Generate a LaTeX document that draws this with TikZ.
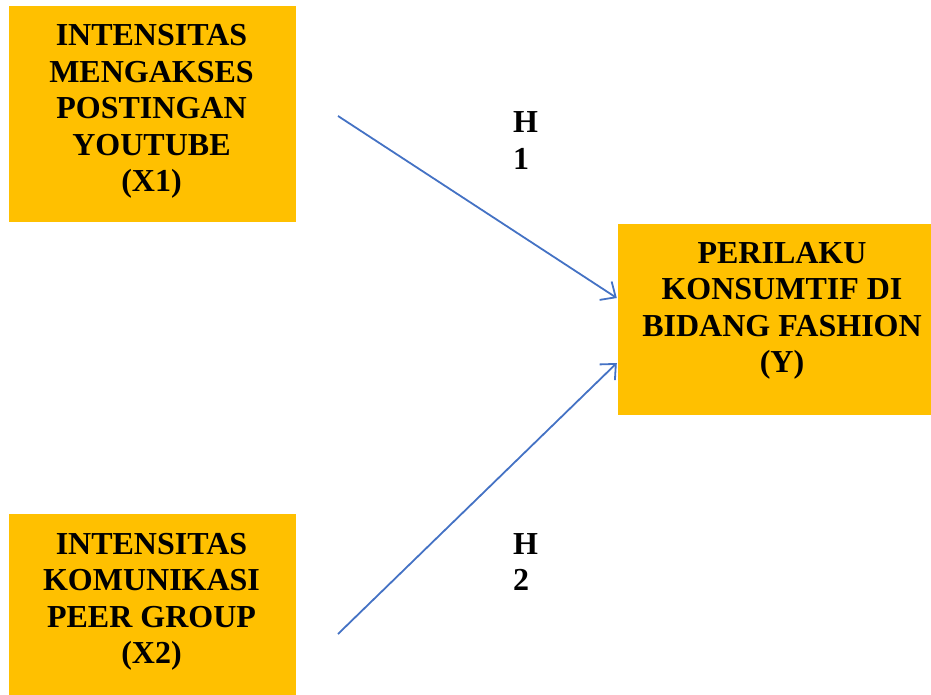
\documentclass[tikz,border=0pt]{standalone}
\usepackage{fontspec}
\setmainfont{Liberation Serif}
\usetikzlibrary{arrows.meta}
\definecolor{boxorange}{HTML}{FFC000}
\definecolor{arrowblue}{HTML}{4472C4}
\tikzset{
  varbox/.style={rectangle, fill=boxorange, draw=none, inner sep=0pt},
  boxtext/.style={align=center, inner sep=0pt, font=\fontsize{32}{36.5}\selectfont\bfseries},
  hyptext/.style={align=left, inner sep=0pt, font=\fontsize{32}{36.6}\selectfont\bfseries},
  link/.style={draw=arrowblue, line width=1.8pt, -{Straight Barb[length=12pt,width=22pt,line width=1.8pt]}}
}
\begin{document}
\begin{tikzpicture}[x=1pt,y=-1pt]
\useasboundingbox (0,0) rectangle (931,695);
% boxes
\node[varbox, minimum width=287pt, minimum height=216pt] (x1) at (152.5,114) {};
\node[varbox, minimum width=287pt, minimum height=181pt] (x2) at (152.5,604.5) {};
\node[varbox, minimum width=313pt, minimum height=191pt] (y) at (774.5,319.5) {};
% texts (base anchor = last line baseline)
\node[boxtext, anchor=base] (x1t) at (151.5,192) {INTENSITAS\\MENGAKSES\\POSTINGAN\\YOUTUBE\\(X1)};
\node[boxtext, anchor=base] (x2t) at (151.5,663.5) {INTENSITAS\\KOMUNIKASI\\PEER GROUP\\(X2)};
\node[boxtext, anchor=base] (yt) at (782,372.5) {PERILAKU\\KONSUMTIF DI\\BIDANG FASHION\\(Y)};
% hypothesis labels
\node[hyptext, anchor=base west] (h1) at (513,169.3) {H\\1};
\node[hyptext, anchor=base west] (h2) at (513,590.7) {H\\2};
% connectors
\coordinate (a1) at (338,116);
\coordinate (a2) at (338,634);
\draw[link] (a1) -- ([yshift=21.5pt,xshift=-1pt]y.west);
\draw[link] (a2) -- ([yshift=-43.5pt,xshift=-1pt]y.west);
\end{tikzpicture}
\end{document}
